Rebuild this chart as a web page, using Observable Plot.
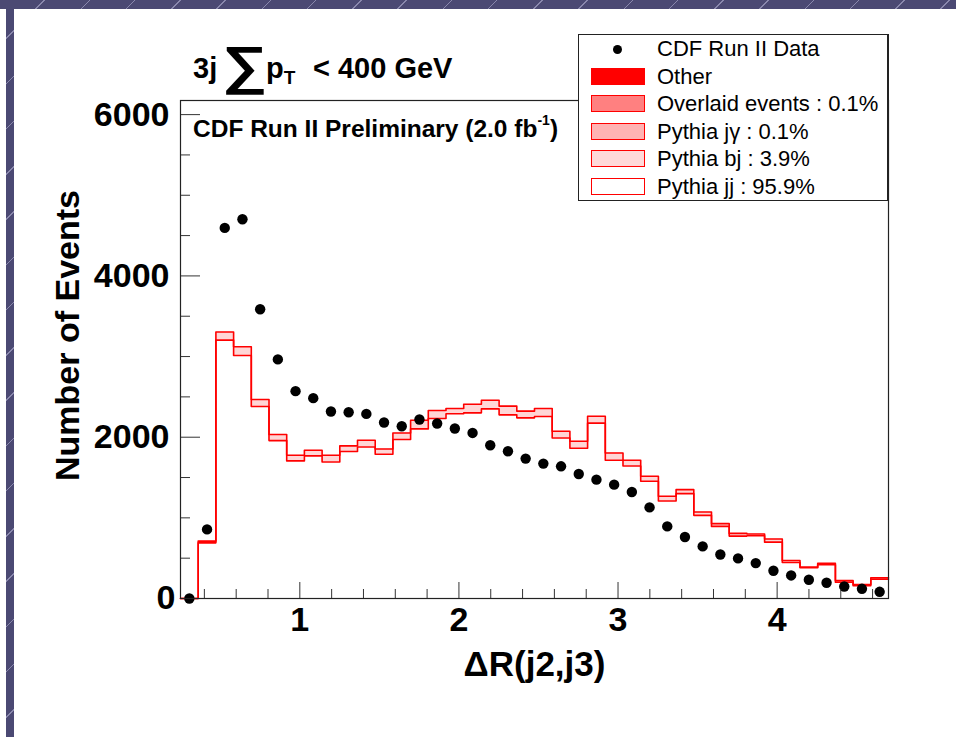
<!DOCTYPE html>
<html>
<head>
<meta charset="utf-8">
<script src="https://cdn.jsdelivr.net/npm/d3@7"></script>
<script src="https://cdn.jsdelivr.net/npm/@observablehq/plot@0.6"></script>
<style>
  html, body { margin: 0; padding: 0; background: #fff; }
  #wrap { position: relative; width: 956px; height: 737px; overflow: hidden;
    background: repeating-linear-gradient(135deg, #4b4973 0px, #4b4973 31px, #8a88ad 31px, #8a88ad 32px);
    font-family: "Liberation Sans", Arial, Helvetica, sans-serif; }
  .white { position: absolute; background: #fff; }
  #chart { position: absolute; left: 0; top: 0; }
  #ov { position: absolute; left: 0; top: 0; pointer-events: none; font-family: "Liberation Sans", Arial, Helvetica, sans-serif; }
  #legend { position: absolute; left: 578px; top: 34px; width: 308px; height: 165px;
    background: #fff; border: 1px solid #222; border-right-width: 2px; }
  .lrow { position: absolute; left: 0; width: 100%; height: 0; }
  .ltext { position: absolute; left: 78px; top: -11px; font-size: 22px; line-height: 22px; white-space: nowrap; color: #000; }
  .lbox { position: absolute; left: 12px; top: -9px; width: 52px; height: 15px; border: 1.5px solid #ff0000; }
  .ldot { position: absolute; left: 34px; top: -4.5px; width: 9px; height: 9px; border-radius: 50%; background: #000; }
</style>
</head>
<body>
<div id="wrap">
  <div class="white" style="left:0;top:9px;width:6px;height:728px"></div>
  <div class="white" style="left:14px;top:9px;width:942px;height:728px"></div>
  <div id="chart"></div>
  <svg id="ov" width="956" height="737">
    <text x="193" y="78" font-size="29" font-weight="bold">3j</text>
    <text id="sigma" x="0" y="88" font-size="76" font-weight="bold">∑</text>
    <text x="266" y="78" font-size="29" font-weight="bold">p<tspan font-size="19" dy="6">T</tspan></text>
    <text x="313" y="78" font-size="29" font-weight="bold">&lt; 400 GeV</text>
    <text x="193" y="137" font-size="24.5" font-weight="bold">CDF Run II Preliminary (2.0 fb<tspan font-size="14" dy="-12">-1</tspan><tspan font-size="24.5" dy="12">)</tspan></text>
  </svg>
  <div id="legend"></div>
</div>
<script>
// ---- Data ----
const binLo = 0.25;          // lower edge of first bin
const binHi = 4.70;          // upper edge of last bin
const nBins = 40;

// CDF Run II data, events per bin
const dataCounts = [0, 857, 4595, 4703, 3586, 2965, 2571, 2484, 2319, 2310,
  2289, 2182, 2136, 2219, 2170, 2108, 2053, 1900, 1826, 1735,
  1673, 1639, 1544, 1474, 1412, 1320, 1130, 894, 762, 646,
  546, 497, 439, 344, 286, 232, 195, 149, 120, 83];

// Pythia jj (bottom of stack)
const pythiaJJ = [0, 690, 3204, 3014, 2381, 1958, 1706, 1768, 1693, 1822,
  1879, 1788, 1971, 2103, 2232, 2290, 2302, 2351, 2277, 2240,
  2256, 1991, 1863, 2174, 1714, 1643, 1453, 1209, 1300, 1031,
  894, 774, 778, 699, 447, 381, 418, 203, 158, 240];

// Pythia bj (stacked on top of jj)
const pythiaBJ = [0, 22, 100, 107, 86, 75, 70, 70, 83, 70,
  83, 66, 82, 108, 99, 66, 107, 108, 108, 83,
  100, 83, 87, 86, 91, 71, 62, 58, 50, 41,
  34, 33, 21, 38, 25, 8, 17, 21, 16, 17];

const yMax = 6175;
const yMajor = [0, 2000, 4000, 6000];
const yMinor = [500, 1000, 1500, 2500, 3000, 3500, 4500, 5000, 5500];
const xMajor = [1, 2, 3, 4];
const xMinor = [0.4, 0.6, 0.8, 1.2, 1.4, 1.6, 1.8, 2.2, 2.4, 2.6, 2.8, 3.2, 3.4, 3.6, 3.8, 4.2, 4.4, 4.6];

const legendLabels = ["CDF Run II Data", "Other", "Overlaid events : 0.1%", "Pythia jγ : 0.1%", "Pythia bj : 3.9%", "Pythia jj : 95.9%"];
const legendFills = [null, "#ff0000", "#ff8080", "#ffb3b3", "#ffd9d9", "#ffffff"];

// ---- Build table ----
const edges = d3.range(nBins + 1).map(i => binLo + i * (binHi - binLo) / nBins);
const bins = d3.range(nBins).map(i => ({
  x1: edges[i], x2: edges[i + 1], xc: (edges[i] + edges[i + 1]) / 2,
  data: dataCounts[i], jj: pythiaJJ[i], top: pythiaJJ[i] + pythiaBJ[i]
}));
const steps = key => bins.flatMap(b => [{x: b.x1, y: b[key]}, {x: b.x2, y: b[key]}]);

const frameW = 708, frameH = 498;
const axisFont = {fontSize: 34, fontWeight: "bold", label: null, tickSize: 0, tickFormat: d3.format("d")};

const chart = Plot.plot({
  width: 956, height: 737,
  marginLeft: 180, marginRight: 68, marginTop: 100, marginBottom: 139,
  x: {domain: [binLo, binHi]},
  y: {domain: [0, yMax]},
  style: {fontFamily: "'Liberation Sans', Arial, Helvetica, sans-serif", background: "transparent", color: "#000", overflow: "visible"},
  marks: [
    Plot.rect(bins, {x1: "x1", x2: "x2", y1: "jj", y2: "top", fill: "#ffd6d6"}),
    Plot.line(steps("jj"), {x: "x", y: "y", stroke: "#ff0000", strokeWidth: 1.6}),
    Plot.line(steps("top"), {x: "x", y: "y", stroke: "#ff0000", strokeWidth: 1.6}),
    Plot.dot(bins, {x: "xc", y: "data", r: 5.2, fill: "#000", stroke: null}),
    Plot.tickY(yMajor, {y: d => d, stroke: "#333", strokeWidth: 1, insetRight: frameW - 20}),
    Plot.tickY(yMinor, {y: d => d, stroke: "#333", strokeWidth: 1, insetRight: frameW - 10}),
    Plot.tickX(xMajor, {x: d => d, stroke: "#333", strokeWidth: 1, insetTop: frameH - 16}),
    Plot.tickX(xMinor, {x: d => d, stroke: "#333", strokeWidth: 1, insetTop: frameH - 9}),
    Plot.frame({stroke: "#222", strokeWidth: 1.2}),
    Plot.axisY({...axisFont, ticks: yMajor.filter(d => d > 0), tickPadding: 11}),
    Plot.axisY({...axisFont, ticks: [0], tickPadding: 5}),
    Plot.axisX({...axisFont, ticks: xMajor, tickPadding: 8}),
    Plot.text(["Number of Events"], {frameAnchor: "left", textAnchor: "middle", dx: -112, dy: -14, rotate: -90, fontSize: 34, fontWeight: "bold"}),
    Plot.text(["ΔR(j2,j3)"], {frameAnchor: "bottom", dy: 77, fontSize: 35, fontWeight: "bold"})
  ]
});
document.getElementById("chart").appendChild(chart);

// ---- Size the large summation sign from its measured ink box ----
(function () {
  const c = document.createElement("canvas").getContext("2d");
  c.font = "bold 100px 'Liberation Sans'";
  const m = c.measureText("∑");
  const inkH = m.actualBoundingBoxAscent + m.actualBoundingBoxDescent;
  const inkW = m.actualBoundingBoxLeft + m.actualBoundingBoxRight;
  if (inkH > 0 && inkW > 0) {
    const top = 47, bottom = 95, left = 226, right = 264;
    const size = 100 * (bottom - top) / inkH;
    const sx = (right - left) / (inkW * size / 100);
    const s = document.getElementById("sigma");
    s.setAttribute("font-size", size.toFixed(1));
    s.setAttribute("x", (m.actualBoundingBoxLeft * size / 100).toFixed(1));
    s.setAttribute("y", (top + m.actualBoundingBoxAscent * size / 100).toFixed(1));
    s.setAttribute("transform", `translate(${left},0) scale(${sx.toFixed(3)},1)`);
  }
})();

// ---- Legend ----
const legend = document.getElementById("legend");
legendLabels.forEach((lab, i) => {
  const row = document.createElement("div");
  row.className = "lrow";
  row.style.top = (14 + 27.6 * i) + "px";
  const sym = document.createElement("div");
  if (legendFills[i] === null) { sym.className = "ldot"; }
  else { sym.className = "lbox"; sym.style.background = legendFills[i]; }
  row.appendChild(sym);
  const t = document.createElement("div");
  t.className = "ltext";
  t.textContent = lab;
  row.appendChild(t);
  legend.appendChild(row);
});
</script>
</body>
</html>
